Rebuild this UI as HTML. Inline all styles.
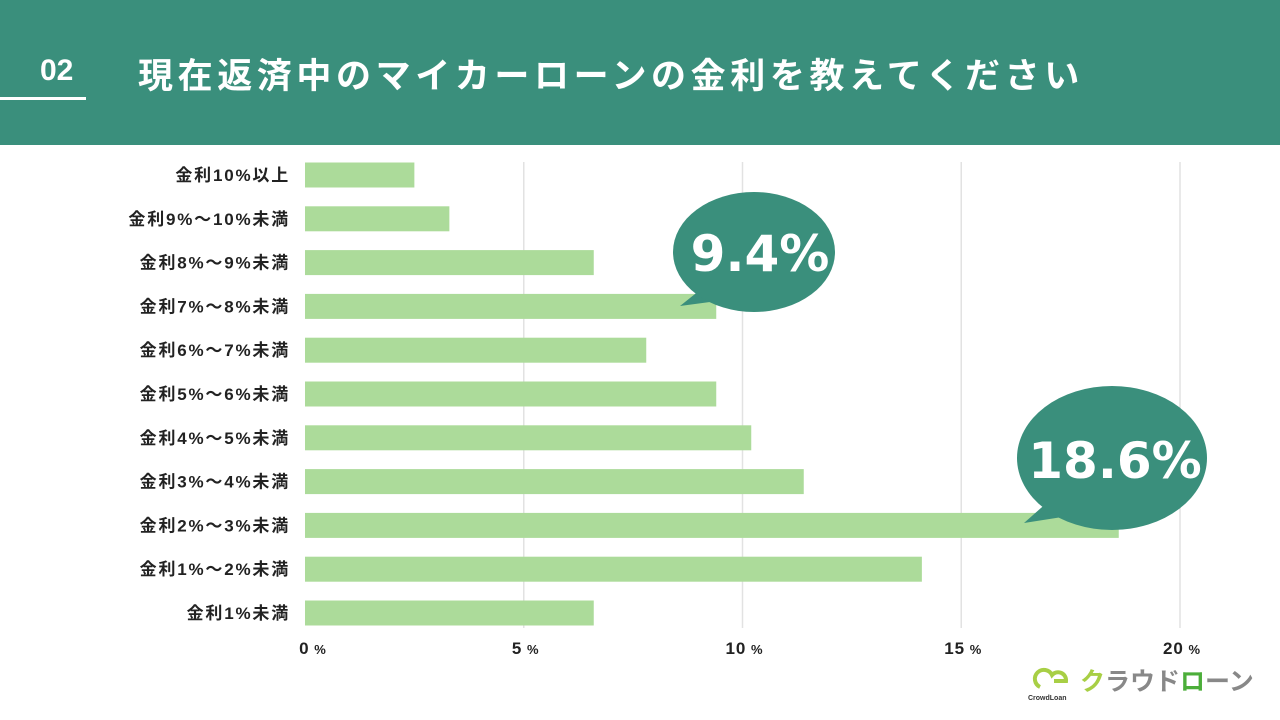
<!DOCTYPE html>
<html><head><meta charset="utf-8"><style>
body{margin:0;width:1280px;height:720px;background:#fff;font-family:"Liberation Sans","Noto Sans CJK JP",sans-serif;overflow:hidden;position:relative}
#hdr{position:absolute;left:0;top:0;width:1280px;height:145px;background:#3a8f7c}
</style></head><body>
<div id="hdr"></div>
<svg width="1280" height="720" style="position:absolute;left:0;top:0">
<text x="40" y="80" fill="#fff" font-size="30" font-weight="bold" font-family="Liberation Sans, sans-serif">02</text>
<rect x="0" y="97" width="86" height="3" fill="#fff"/>
<text x="138" y="88" fill="#fff" font-size="35" font-weight="bold" letter-spacing="4.6" font-family="Liberation Sans, Noto Sans CJK JP, sans-serif">現在返済中のマイカーローンの金利を教えてください</text>
<g id="grid"></g><g id="bars"></g><g id="labels"></g><g id="ticks"></g>
<g>
<path d="M700,290 L680,306 L725,300 Z" fill="#3a8f7c"/>
<ellipse cx="754" cy="252" rx="81" ry="60" fill="#3a8f7c"/>
<text x="760" y="271" text-anchor="middle" fill="#fff" font-size="50" font-weight="bold" font-family="DejaVu Sans, sans-serif">9.4%</text>
</g>
<g>
<path d="M1050,500 L1024,523 L1075,515 Z" fill="#3a8f7c"/>
<ellipse cx="1112" cy="458" rx="95" ry="72" fill="#3a8f7c"/>
<text x="1115" y="478" text-anchor="middle" fill="#fff" font-size="50" font-weight="bold" font-family="DejaVu Sans, sans-serif">18.6%</text>
</g>
<g>
<path d="M1040,687 a9,9 0 1 1 12,-12 a8,8 0 0 1 14,6 l-12,0" fill="none" stroke="#a8cf45" stroke-width="4"/>
<text x="1028" y="700" font-size="7" font-weight="bold" fill="#333">CrowdLoan</text>
<text x="1080" y="690" font-size="25" font-weight="bold" fill="#888" font-family="Liberation Sans, Noto Sans CJK JP, sans-serif"><tspan fill="#a8cf45">ク</tspan>ラウド<tspan fill="#4cae3a">ロ</tspan>ーン</text>
</g>
</svg>
<script>
const categories=["金利10%以上","金利9%～10%未満","金利8%～9%未満","金利7%～8%未満","金利6%～7%未満","金利5%～6%未満","金利4%～5%未満","金利3%～4%未満","金利2%～3%未満","金利1%～2%未満","金利1%未満"];
const values=[2.5,3.3,6.6,9.4,7.8,9.4,10.2,11.4,18.6,14.1,6.6];
const tickValues=[0,5,10,15,20];
const ns="http://www.w3.org/2000/svg";
const x0=305,pxPer=43.75,y0=175,rowH=43.8,barH=25;
const xs=v=>x0+v*pxPer, ys=i=>y0+i*rowH;
const g=document.getElementById('grid'),b=document.getElementById('bars'),l=document.getElementById('labels'),t=document.getElementById('ticks');
tickValues.forEach(v=>{
 if(v>0){const ln=document.createElementNS(ns,'line');
 ln.setAttribute('x1',xs(v));ln.setAttribute('x2',xs(v));ln.setAttribute('y1',162);ln.setAttribute('y2',628);ln.setAttribute('stroke','#e2e2e2');ln.setAttribute('stroke-width','1.5');
 
 
 g.appendChild(ln);}
 const tx=document.createElementNS(ns,'text');
 tx.setAttribute('x',xs(v)+(v===0?8:2));tx.setAttribute('y',654);tx.setAttribute('text-anchor','middle');tx.setAttribute('font-size','17');tx.setAttribute('font-weight','bold');tx.setAttribute('fill','#222');tx.setAttribute('letter-spacing','1');
 tx.innerHTML=v+'<tspan font-size="13"> %</tspan>';
 
 
 t.appendChild(tx);
});
categories.forEach((c,i)=>{
 const r=document.createElementNS(ns,'rect');
 r.setAttribute('x',x0);r.setAttribute('y',ys(i)-barH/2);r.setAttribute('width',values[i]*pxPer);r.setAttribute('height',barH);r.setAttribute('fill','#acdb9a');
 
 
 b.appendChild(r);
 const tx=document.createElementNS(ns,'text');
 tx.setAttribute('x',290);tx.setAttribute('y',ys(i)+6);tx.setAttribute('text-anchor','end');tx.setAttribute('font-size','17');tx.setAttribute('font-weight','bold');tx.setAttribute('fill','#222');tx.setAttribute('letter-spacing','1.8');
 tx.textContent=c;
 
 
 l.appendChild(tx);
});
</script>
</body></html>
